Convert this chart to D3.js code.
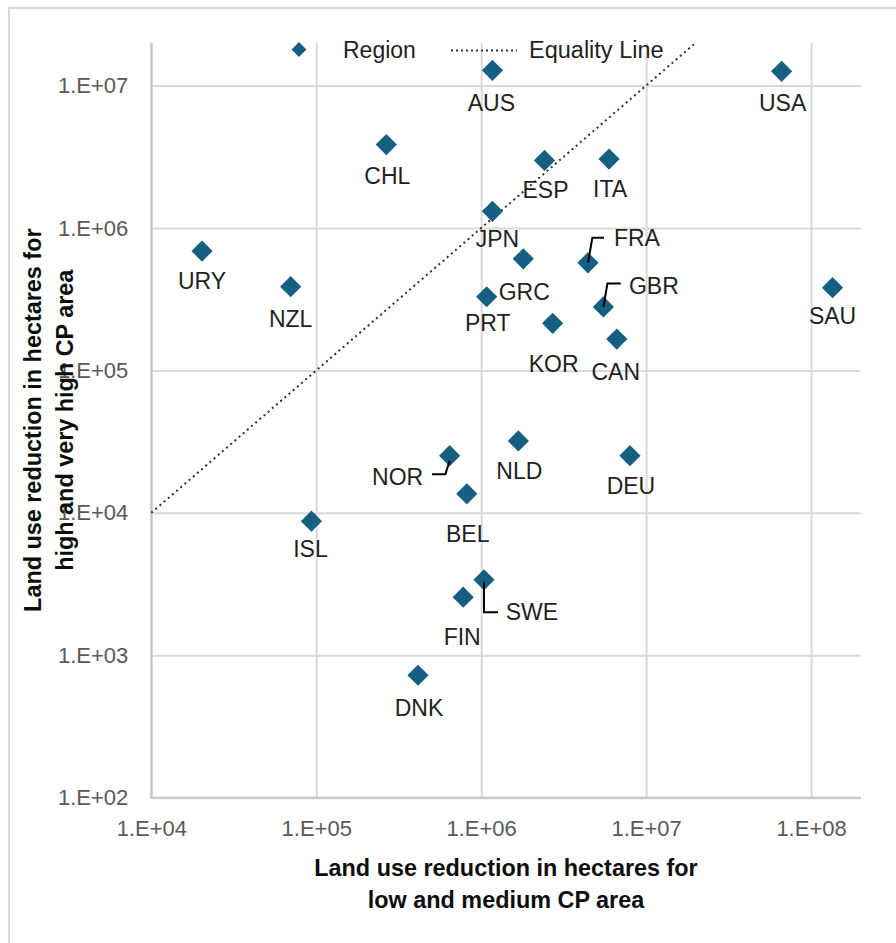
<!DOCTYPE html>
<html>
<head>
<meta charset="utf-8">
<script src="https://cdn.jsdelivr.net/npm/d3@7"></script>
<style>
  html, body { margin: 0; padding: 0; background: #fff; }
  svg { display: block; font-family: "Liberation Sans", Arial, sans-serif; }
</style>
</head>
<body>
<svg id="chart" width="896" height="943"></svg>
<script>
// Countries and their land use reduction (hectares)
const countries = ["AUS", "USA", "CHL", "URY", "NZL", "ESP", "ITA", "JPN", "GRC", "FRA", "PRT", "GBR",
                   "SAU", "KOR", "CAN", "NLD", "DEU", "NOR", "BEL", "ISL", "SWE", "FIN", "DNK"];
const lowMediumCP = [1.17e6, 6.63e7, 2.66e5, 2.03e4, 7.0e4, 2.42e6, 5.96e6, 1.17e6, 1.80e6, 4.44e6, 1.08e6, 5.51e6,
                     1.35e8, 2.71e6, 6.64e6, 1.68e6, 7.98e6, 6.44e5, 8.18e5, 9.35e4, 1.04e6, 7.78e5, 4.14e5];
const highVeryHighCP = [1.28e7, 1.26e7, 3.85e6, 6.89e5, 3.87e5, 2.98e6, 3.05e6, 1.31e6, 6.08e5, 5.70e5, 3.29e5, 2.79e5,
                        3.81e5, 2.14e5, 1.66e5, 3.20e4, 2.52e4, 2.52e4, 1.36e4, 8.74e3, 3.39e3, 2.56e3, 7.24e2];

// Axis ticks
const xTickValues = [1e4, 1e5, 1e6, 1e7, 1e8];
const xTickLabels = ["1.E+04", "1.E+05", "1.E+06", "1.E+07", "1.E+08"];
const yTickValues = [1e2, 1e3, 1e4, 1e5, 1e6, 1e7];
const yTickLabels = ["1.E+02", "1.E+03", "1.E+04", "1.E+05", "1.E+06", "1.E+07"];

// Equality line y = x, drawn between these two values
const equalityEnds = [1e4, 2e7];

const xTitleLines = ["Land use reduction in hectares for", "low and medium CP area"];
const yTitleLines = ["Land use reduction in hectares for", "high and very high CP area"];
const legendLabels = ["Region", "Equality Line"];

// ---- layout ----
const W = 896, H = 943;
const plot = { left: 151.3, right: 860.7, top: 42.7, bottom: 797.7 };
const markColor = "#156082";
const textColor = "#1f1f1f";
const tickColor = "#595959";

// label placement relative to each marker (px); leader lines where used
const labelLayout = {
  AUS: { dx: -1, dy: 32 }, USA: { dx: 1, dy: 31 }, CHL: { dx: 1, dy: 31 }, URY: { dx: 0, dy: 30 },
  NZL: { dx: 0, dy: 32 }, ESP: { dx: 1, dy: 29 }, ITA: { dx: 1, dy: 30 }, JPN: { dx: 5, dy: 27 },
  GRC: { dx: 1, dy: 33 }, PRT: { dx: 1, dy: 26 }, SAU: { dx: 0, dy: 28 }, KOR: { dx: 1, dy: 40 },
  CAN: { dx: -1, dy: 33 }, NLD: { dx: 1, dy: 30 }, DEU: { dx: 1, dy: 30 }, BEL: { dx: 1, dy: 40 },
  ISL: { dx: -1, dy: 28 }, FIN: { dx: -1, dy: 40 }, DNK: { dx: 1, dy: 32 },
  FRA: { dx: 26, dy: -25, anchor: "start", leader: [[0, 0], [4.4, -25], [16, -25]] },
  GBR: { dx: 25.5, dy: -21, anchor: "start", leader: [[0, 0], [4, -23.5], [17.3, -23.5]] },
  NOR: { dx: -26.5, dy: 21, anchor: "end", leader: [[0, 5], [-4.3, 18.5], [-17.6, 18.5]] },
  SWE: { dx: 21.7, dy: 31.7, anchor: "start", leader: [[0, 2], [0, 32.4], [14, 32.4]] }
};

const svg = d3.select("#chart");

const x = d3.scaleLog().domain([1e4, 2e8]).range([plot.left, plot.right]);
const y = d3.scaleLog().domain([1e2, 2e7]).range([plot.bottom, plot.top]);

// outer chart frame
svg.append("rect")
  .attr("x", 9).attr("y", 8).attr("width", W + 20).attr("height", H + 20)
  .attr("fill", "#fff").attr("stroke", "#d9d9d9").attr("stroke-width", 2);

// gridlines
const gridX = svg.append("g")
  .attr("transform", `translate(0,${plot.bottom})`)
  .call(d3.axisBottom(x).tickValues(xTickValues).tickSize(-(plot.bottom - plot.top)).tickFormat(""));
const gridY = svg.append("g")
  .attr("transform", `translate(${plot.left},0)`)
  .call(d3.axisLeft(y).tickValues(yTickValues).tickSize(-(plot.right - plot.left)).tickFormat(""));
[gridX, gridY].forEach(g => {
  g.select(".domain").remove();
  g.selectAll(".tick line").attr("stroke", "#d9d9d9").attr("stroke-width", 2);
});

// axis lines
svg.append("line").attr("x1", plot.left).attr("x2", plot.left).attr("y1", plot.top).attr("y2", plot.bottom)
  .attr("stroke", "#c4c4c4").attr("stroke-width", 2);
svg.append("line").attr("x1", plot.left - 1).attr("x2", plot.right).attr("y1", plot.bottom).attr("y2", plot.bottom)
  .attr("stroke", "#c4c4c4").attr("stroke-width", 2);

// tick labels
const xAxis = svg.append("g")
  .attr("transform", `translate(0,${plot.bottom})`)
  .call(d3.axisBottom(x).tickValues(xTickValues).tickSize(0).tickPadding(23)
    .tickFormat((d, i) => xTickLabels[i]));
const yAxis = svg.append("g")
  .attr("transform", `translate(${plot.left},0)`)
  .call(d3.axisLeft(y).tickValues(yTickValues).tickSize(0).tickPadding(23)
    .tickFormat((d, i) => yTickLabels[i]));
[xAxis, yAxis].forEach(g => {
  g.select(".domain").remove();
  g.selectAll("text").attr("fill", tickColor).style("font-size", "22px")
    .style("font-family", "'Liberation Sans', Arial, sans-serif");
});

// equality line
svg.append("line")
  .attr("x1", x(equalityEnds[0])).attr("y1", y(equalityEnds[0]))
  .attr("x2", x(equalityEnds[1])).attr("y2", y(equalityEnds[1]))
  .attr("stroke", "#303030").attr("stroke-width", 2).attr("stroke-dasharray", "2,3.5");

// data
const data = countries.map((c, i) => ({ code: c, lm: lowMediumCP[i], hv: highVeryHighCP[i] }));

const diamond = d3.symbol().type(d3.symbolSquare).size(225);
svg.append("g").selectAll("path")
  .data(data).join("path")
  .attr("d", diamond)
  .attr("transform", d => `translate(${x(d.lm)},${y(d.hv)}) rotate(45)`)
  .attr("fill", markColor);

// leader lines
const lineGen = d3.line();
svg.append("g").selectAll("path")
  .data(data.filter(d => labelLayout[d.code].leader)).join("path")
  .attr("d", d => lineGen(labelLayout[d.code].leader.map(p => [x(d.lm) + p[0], y(d.hv) + p[1]])))
  .attr("fill", "none").attr("stroke", "#000").attr("stroke-width", 2);

// data labels
svg.append("g").selectAll("text")
  .data(data).join("text")
  .attr("x", d => x(d.lm) + labelLayout[d.code].dx)
  .attr("y", d => y(d.hv) + labelLayout[d.code].dy)
  .attr("dy", "0.36em")
  .attr("text-anchor", d => labelLayout[d.code].anchor || "middle")
  .attr("fill", textColor)
  .style("font-size", "23px")
  .text(d => d.code);

// legend
const legend = svg.append("g");
legend.append("path")
  .attr("d", d3.symbol().type(d3.symbolSquare).size(110))
  .attr("transform", "translate(299,49.5) rotate(45)")
  .attr("fill", markColor);
legend.append("text").attr("x", 343).attr("y", 50).attr("dy", "0.36em")
  .attr("fill", textColor).style("font-size", "23px").text(legendLabels[0]);
legend.append("line").attr("x1", 451).attr("x2", 517).attr("y1", 50.5).attr("y2", 50.5)
  .attr("stroke", "#303030").attr("stroke-width", 2).attr("stroke-dasharray", "2,3");
legend.append("text").attr("x", 529).attr("y", 50).attr("dy", "0.36em")
  .attr("fill", textColor).style("font-size", "23.5px").text(legendLabels[1]);

// axis titles
const cx = (plot.left + plot.right) / 2;
const cy = (plot.top + plot.bottom) / 2;
svg.append("g").selectAll("text")
  .data(xTitleLines).join("text")
  .attr("x", cx).attr("y", (d, i) => 876 + i * 32)
  .attr("text-anchor", "middle").attr("fill", "#0d0d0d")
  .style("font-size", "23.4px").style("font-weight", "bold")
  .text(d => d);
svg.append("g").selectAll("text")
  .data(yTitleLines).join("text")
  .attr("transform", (d, i) => `translate(${41 + i * 32},${cy}) rotate(-90)`)
  .attr("text-anchor", "middle").attr("fill", "#0d0d0d")
  .style("font-size", "23.4px").style("font-weight", "bold")
  .text(d => d);
</script>
</body>
</html>
